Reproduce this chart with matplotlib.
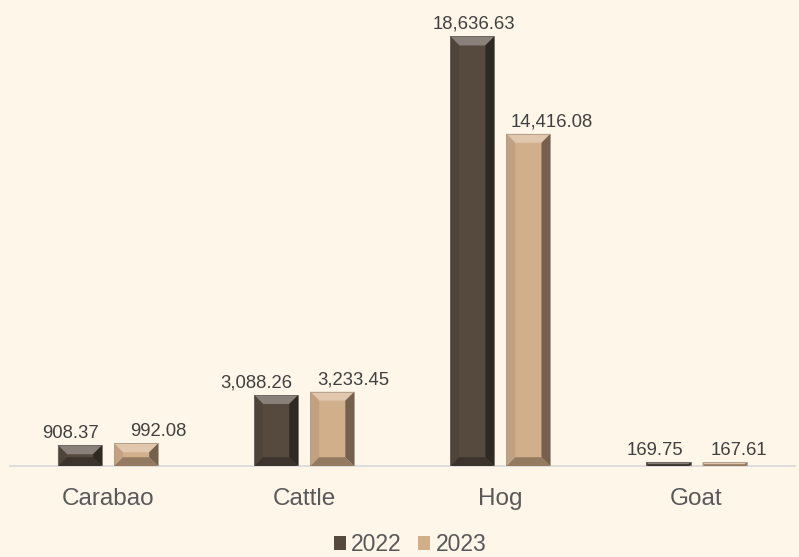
import matplotlib.pyplot as plt
import matplotlib.colors as mcolors
from matplotlib.patches import Polygon
import numpy as np

plt.rcParams.update({
    "font.family": "Liberation Sans",
    "font.size": 11,
})

# datos
categorias = ["Carabao", "Cattle", "Hog", "Goat"]
anios = ["2022", "2023"]
valores_2022 = [908.37, 3088.26, 18636.63, 169.75]
valores_2023 = [992.08, 3233.45, 14416.08, 167.61]

# desplazamiento horizontal de las etiquetas (puntos), como en el original
desp_etq_2022 = [-7, -14, 1, -10]
desp_etq_2023 = [16, 15, 17, 10]

FONDO = "#FEF6E9"
COLORES = ["#564A3F", "#D2AF8B"]
TEXTO = "#404040"
TEXTO_EJE = "#595959"


def mezclar(color, otro, t):
    c = np.array(mcolors.to_rgb(color))
    o = np.array(mcolors.to_rgb(otro))
    return tuple(c * (1 - t) + o * t)


def bisel(ax, barras, color, b=9):
    # caras del bisel en coordenadas de pantalla
    for bar in barras:
        x0, y0 = ax.transData.transform((bar.get_x(), 0))
        x1, y1 = ax.transData.transform((bar.get_x() + bar.get_width(), bar.get_height()))
        h = y1 - y0
        bb = min(b, h / 2.0, (x1 - x0) / 2.0)
        caras = [
            ([(x0, y1), (x1, y1), (x1 - bb, y1 - bb), (x0 + bb, y1 - bb)], mezclar(color, "white", 0.3)),
            ([(x0, y0), (x0, y1), (x0 + bb, y1 - bb), (x0 + bb, y0 + bb)], mezclar(color, "black", 0.08)),
            ([(x1, y0), (x1, y1), (x1 - bb, y1 - bb), (x1 - bb, y0 + bb)], mezclar(color, "black", 0.45)),
            ([(x0, y0), (x1, y0), (x1 - bb, y0 + bb), (x0 + bb, y0 + bb)], mezclar(color, "black", 0.3)),
        ]
        for pts, c in caras:
            ax.add_patch(Polygon(pts, closed=True, facecolor=c, edgecolor="none",
                                 transform=None, zorder=3))
        ax.add_patch(Polygon([(x0, y0), (x0, y1), (x1, y1), (x1, y0)], closed=True,
                             facecolor="none", edgecolor=mezclar(color, "#888888", 0.5),
                             linewidth=0.6, transform=None, zorder=4))


fig = plt.figure(figsize=(7.99, 5.57), dpi=100, facecolor=FONDO)
ax = fig.add_axes([0.0125, 0.163, 0.982, 0.828])
ax.set_facecolor(FONDO)

x = np.arange(len(categorias))
ancho = 0.225
desp = 0.143

barras = []
series = zip([valores_2022, valores_2023], anios, [desp_etq_2022, desp_etq_2023])
for i, (vals, etiqueta, dxs) in enumerate(series):
    b = ax.bar(x + (i * 2 - 1) * desp, vals, width=ancho, color=COLORES[i],
               label=etiqueta, zorder=2)
    barras.append(b)
    for bar, v, dx in zip(b, vals, dxs):
        ax.annotate(f"{v:,.2f}", xy=(bar.get_x() + bar.get_width() / 2, v),
                    xytext=(dx, 2.5), textcoords="offset points",
                    ha="center", va="bottom", fontsize=13.3, color=TEXTO)

ax.set_xlim(-0.5, 3.5)
ax.set_ylim(0, 20000)
ax.set_yticks([])
ax.set_xticks(x)
ax.set_xticklabels(categorias, fontsize=17.5, color=TEXTO_EJE)
ax.tick_params(axis="x", length=0, pad=16)
for lado in ["top", "right", "left"]:
    ax.spines[lado].set_visible(False)
ax.spines["bottom"].set_color("#D9D9D9")
ax.spines["bottom"].set_linewidth(1.2)

fig.canvas.draw()
for b, c in zip(barras, COLORES):
    bisel(ax, b, c)

handles, labels = ax.get_legend_handles_labels()
leg = fig.legend(handles, labels, loc="center", bbox_to_anchor=(0.513, 0.022), ncol=2,
                 frameon=False, fontsize=16.5, handlelength=0.52, handleheight=0.52,
                 handletextpad=0.22, columnspacing=0.75, labelcolor=TEXTO_EJE,
                 borderaxespad=0, borderpad=0)

fig.savefig("out.png", dpi=100, facecolor=FONDO)
